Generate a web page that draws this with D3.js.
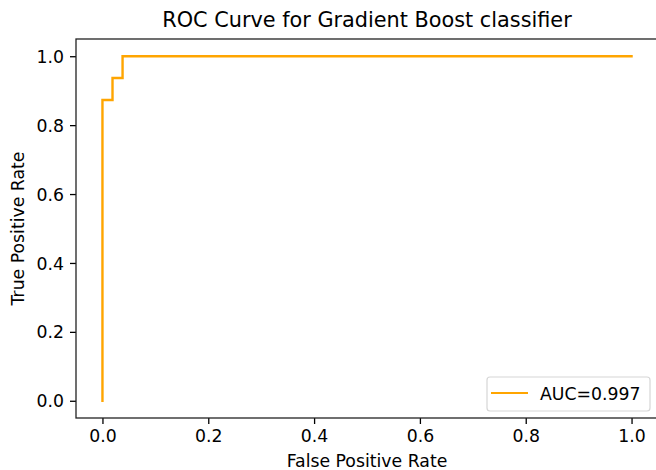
<!DOCTYPE html>
<html><head><meta charset="utf-8">
<script src="https://cdn.jsdelivr.net/npm/d3@7"></script>
<style>body{margin:0;background:#fff}svg{display:block}text{font-family:"DejaVu Sans",sans-serif;fill:#000}</style>
</head><body><svg id="c" width="656" height="470"></svg>
<script>
const fpr = [0, 0, 0.019, 0.019, 0.038, 0.038, 1];
const tpr = [0, 0.873, 0.873, 0.937, 0.937, 1, 1];
const xTicks = [0, 0.2, 0.4, 0.6, 0.8, 1.0];
const yTicks = [0, 0.2, 0.4, 0.6, 0.8, 1.0];
const title = "ROC Curve for Gradient Boost classifier";
const xLabel = "False Positive Rate";
const yLabel = "True Positive Rate";
const legendLabel = "AUC=0.997";

const svg = d3.select("#c");
const L = 76, R = 658, T = 39, B = 418;
const x = d3.scaleLinear().domain([-0.05, 1.05]).range([L, R]);
const y = d3.scaleLinear().domain([-0.05, 1.05]).range([B, T]);
const fs = 17.3;

const line = d3.line().x(d => x(d[0])).y(d => y(d[1]));
svg.append("path").datum(fpr.map((f, i) => [f, tpr[i]]))
  .attr("d", line).attr("fill", "none").attr("stroke", "#FFA500").attr("stroke-width", 2.4)
  .attr("stroke-linecap", "square");

const xa = svg.append("g").attr("transform", `translate(0,${B})`)
  .call(d3.axisBottom(x).tickValues(xTicks).tickFormat(d3.format(".1f")).tickSizeInner(6).tickSizeOuter(0).tickPadding(6));
const ya = svg.append("g").attr("transform", `translate(${L},0)`)
  .call(d3.axisLeft(y).tickValues(yTicks).tickFormat(d3.format(".1f")).tickSizeInner(6).tickSizeOuter(0).tickPadding(6));
[xa, ya].forEach(g => {
  g.select(".domain").remove();
  g.selectAll("line").attr("stroke", "#000").attr("stroke-width", 1.3);
  g.selectAll("text").attr("font-size", fs).attr("font-family", "DejaVu Sans").attr("fill", "#222");
});
ya.selectAll("text").attr("dy", "0.35em");
svg.append("rect").attr("x", L).attr("y", T).attr("width", R - L).attr("height", B - T)
  .attr("fill", "none").attr("stroke", "#222").attr("stroke-width", 1.3);

svg.append("text").attr("x", (L + R) / 2).attr("y", 27).attr("text-anchor", "middle")
  .attr("font-size", 20.8).attr("fill", "#222").text(title);
svg.append("text").attr("x", (L + R) / 2).attr("y", 467).attr("text-anchor", "middle")
  .attr("font-size", fs).attr("fill", "#222").text(xLabel);
svg.append("text").attr("transform", `translate(24,${(T + B) / 2}) rotate(-90)`).attr("text-anchor", "middle")
  .attr("font-size", fs).attr("fill", "#222").text(yLabel);

const lg = svg.append("g");
lg.append("rect").attr("x", 487).attr("y", 377).attr("width", 163).attr("height", 34).attr("rx", 3)
  .attr("fill", "#fff").attr("fill-opacity", 0.8).attr("stroke", "#d6d6d6").attr("stroke-width", 1.2);
lg.append("line").attr("x1", 491).attr("x2", 528).attr("y1", 393).attr("y2", 393)
  .attr("stroke", "#FFA500").attr("stroke-width", 2.2);
lg.append("text").attr("x", 540).attr("y", 399.5).attr("font-size", fs).attr("fill", "#222").text(legendLabel);
</script></body></html>
